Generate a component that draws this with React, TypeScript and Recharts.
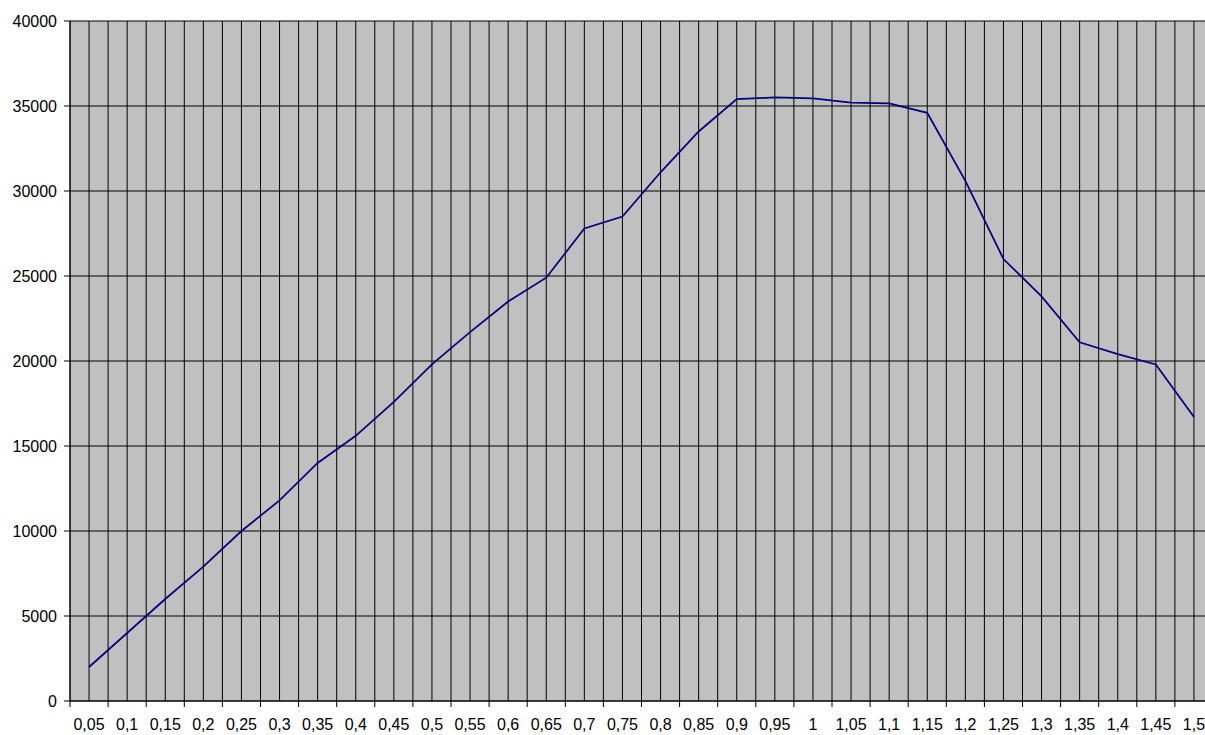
import { LineChart, Line, XAxis, YAxis, CartesianGrid } from "recharts";

// x categories (decimal comma, as in the source sheet)
const categories = [
  "0,05", "0,1", "0,15", "0,2", "0,25", "0,3", "0,35", "0,4", "0,45", "0,5",
  "0,55", "0,6", "0,65", "0,7", "0,75", "0,8", "0,85", "0,9", "0,95", "1",
  "1,05", "1,1", "1,15", "1,2", "1,25", "1,3", "1,35", "1,4", "1,45", "1,5",
];

const values = [
  2000, 4000, 6000, 7900, 10000, 11800, 14000, 15600, 17600, 19800,
  21700, 23500, 24900, 27800, 28500, 31100, 33500, 35400, 35500, 35450,
  35200, 35150, 34600, 30600, 26000, 23800, 21100, 20400, 19800, 16700,
];

const yTicks = [0, 5000, 10000, 15000, 20000, 25000, 30000, 35000, 40000];

// category i sits in the middle of slot [i, i+1]
const chartData = categories.map((label, i) => ({ pos: i + 0.5, label, value: values[i] }));

// grid at every slot edge and slot centre
const xTicks = Array.from({ length: categories.length * 2 + 1 }, (_, i) => i / 2);

const FONT = "Arial, 'Liberation Sans', sans-serif";

function XTick(props: any) {
  const { x, y, payload } = props;
  const v = payload.value as number;
  if (Number.isInteger(v)) {
    return <line x1={x} x2={x} y1={y} y2={y + 6} stroke="#000" strokeWidth={1} />;
  }
  return (
    <text x={x} y={y + 29} textAnchor="middle" fontSize={16} fontFamily={FONT} fill="#000">
      {categories[Math.floor(v)]}
    </text>
  );
}

export default function App() {
  return (
    <div
      style={{
        position: "fixed",
        left: 0,
        top: 0,
        width: 1205,
        height: 735,
        overflow: "hidden",
        background: "#fff",
      }}
    >
      <LineChart
        width={1230}
        height={735}
        data={chartData}
        margin={{ top: 21, right: 17, bottom: 4, left: 0 }}
      >
        <CartesianGrid
          stroke="#000"
          strokeWidth={1}
          fill="#C0C0C0"
          fillOpacity={1}
        />
        <XAxis
          dataKey="pos"
          type="number"
          domain={[0, categories.length]}
          ticks={xTicks}
          interval={0}
          height={30}
          tickLine={false}
          tickSize={0}
          tickMargin={0}
          axisLine={{ stroke: "#000" }}
          tick={<XTick />}
        />
        <YAxis
          domain={[0, 40000]}
          ticks={yTicks}
          interval={0}
          width={70}
          tickSize={6}
          tickMargin={7}
          axisLine={{ stroke: "#000" }}
          tickLine={{ stroke: "#000" }}
          tick={{ fontSize: 16, fontFamily: FONT, fill: "#000" }}
        />
        <Line
          type="linear"
          dataKey="value"
          stroke="#000080"
          strokeWidth={1.75}
          dot={false}
          activeDot={false}
          isAnimationActive={false}
        />
      </LineChart>
    </div>
  );
}
